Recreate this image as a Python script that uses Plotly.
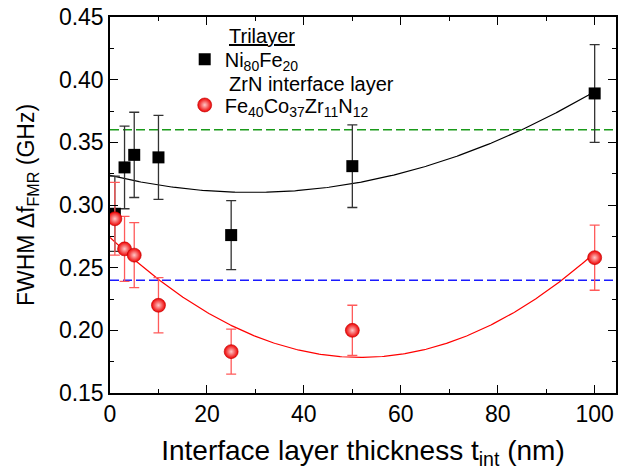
import numpy as np
import plotly.graph_objects as go

# Interface layer thickness (nm)
thickness = [1, 3, 5, 10, 25, 50, 100]

# Ni80Fe20 trilayer linewidth (GHz) and error
nife_fwhm = [0.293, 0.330, 0.340, 0.338, 0.276, 0.331, 0.389]
nife_err = [0.030, 0.033, 0.034, 0.0335, 0.0275, 0.033, 0.039]

# ZrN interface layer / Fe40Co37Zr11N12 linewidth (GHz) and error
fecozrn_fwhm = [0.289, 0.265, 0.260, 0.220, 0.183, 0.200, 0.258]
fecozrn_err = [0.029, 0.026, 0.026, 0.022, 0.018, 0.020, 0.026]

# Reference levels (GHz)
green_level = 0.36
blue_level = 0.24

x_ticks = [0, 20, 40, 60, 80, 100]
y_ticks = [0.15, 0.20, 0.25, 0.30, 0.35, 0.40, 0.45]

FONT = "Liberation Sans, Arial, sans-serif"

fig = go.Figure()

# Second-order polynomial fits through each data set
xs = np.linspace(0, 100, 300)
for yv, col in [(nife_fwhm, "black"), (fecozrn_fwhm, "red")]:
    coef = np.polyfit(thickness, yv, 2)
    fig.add_trace(go.Scatter(x=xs, y=np.polyval(coef, xs), mode="lines",
                             line=dict(color=col, width=1.2), showlegend=False, hoverinfo="skip"))

x_span = [0, 104.4]
fig.add_trace(go.Scatter(x=x_span, y=[green_level] * 2, mode="lines",
                         line=dict(color="#1a9a1a", width=1.5, dash="9px,4px"),
                         showlegend=False, hoverinfo="skip"))
fig.add_trace(go.Scatter(x=x_span, y=[blue_level] * 2, mode="lines",
                         line=dict(color="#1a1aff", width=1.5, dash="9px,4px"),
                         showlegend=False, hoverinfo="skip"))

fig.add_trace(go.Scatter(
    x=thickness, y=nife_fwhm, mode="markers",
    name="Ni<sub>80</sub>Fe<sub>20</sub>",
    marker=dict(symbol="square", size=12, color="black"),
    error_y=dict(type="data", array=nife_err, color="#333333", thickness=1.3, width=5),
    legend="legend",
))
fig.add_trace(go.Scatter(
    x=thickness, y=fecozrn_fwhm, mode="markers",
    name="Fe<sub>40</sub>Co<sub>37</sub>Zr<sub>11</sub>N<sub>12</sub>",
    marker=dict(size=14, color="#ee0000",
                gradient=dict(type="radial", color="#ffc8c8"),
                line=dict(width=0.6, color="#c00000")),
    error_y=dict(type="data", array=fecozrn_err, color="#ff5a5a", thickness=1.3, width=5),
    legend="legend2",
))

L, R, T, B = 110, 4, 14, 77
W, H = 622, 470
pw, ph = W - L - R, H - T - B


def px_x(p):
    return (p - L) / pw


def px_y(p):
    return (H - B - p) / ph


axis_common = dict(
    showline=True, linecolor="black", linewidth=1.5, mirror="ticks",
    ticks="inside", ticklen=8, tickwidth=1.3, tickcolor="black",
    showgrid=False, zeroline=False,
    tickfont=dict(family=FONT, size=23, color="black"),
)

fig.update_layout(
    width=W, height=H,
    margin=dict(l=L, r=R, t=T, b=B),
    paper_bgcolor="white", plot_bgcolor="white",
    font=dict(family=FONT, color="black"),
    xaxis=dict(
        range=x_span, tickvals=x_ticks,
        minor=dict(dtick=10, ticks="inside", ticklen=4, tickwidth=1.2, tickcolor="black"),
        title=dict(text="Interface layer thickness t<sub>int</sub> (nm)",
                   font=dict(family=FONT, size=28), standoff=16),
        **axis_common,
    ),
    yaxis=dict(
        range=[0.15, 0.45], tickvals=y_ticks, tickformat=".2f",
        minor=dict(dtick=0.025, ticks="inside", ticklen=4, tickwidth=1.2, tickcolor="black"),
        title=dict(text="FWHM Δf<sub>FMR</sub> (GHz)",
                   font=dict(family=FONT, size=23), standoff=18),
        **axis_common,
    ),
    legend=dict(x=px_x(185), y=px_y(37), xanchor="left", yanchor="top",
                bgcolor="rgba(0,0,0,0)", font=dict(family=FONT, size=20)),
    legend2=dict(x=px_x(185), y=px_y(83), xanchor="left", yanchor="top",
                 bgcolor="rgba(0,0,0,0)", font=dict(family=FONT, size=20)),
    annotations=[
        dict(text="<u>Trilayer</u>", x=px_x(227), y=px_y(33), xref="paper", yref="paper",
             xanchor="left", yanchor="middle", showarrow=False,
             font=dict(family=FONT, size=20)),
        dict(text="ZrN interface layer", x=px_x(227), y=px_y(82), xref="paper", yref="paper",
             xanchor="left", yanchor="middle", showarrow=False,
             font=dict(family=FONT, size=20)),
    ],
)

fig.write_html("out.html")
